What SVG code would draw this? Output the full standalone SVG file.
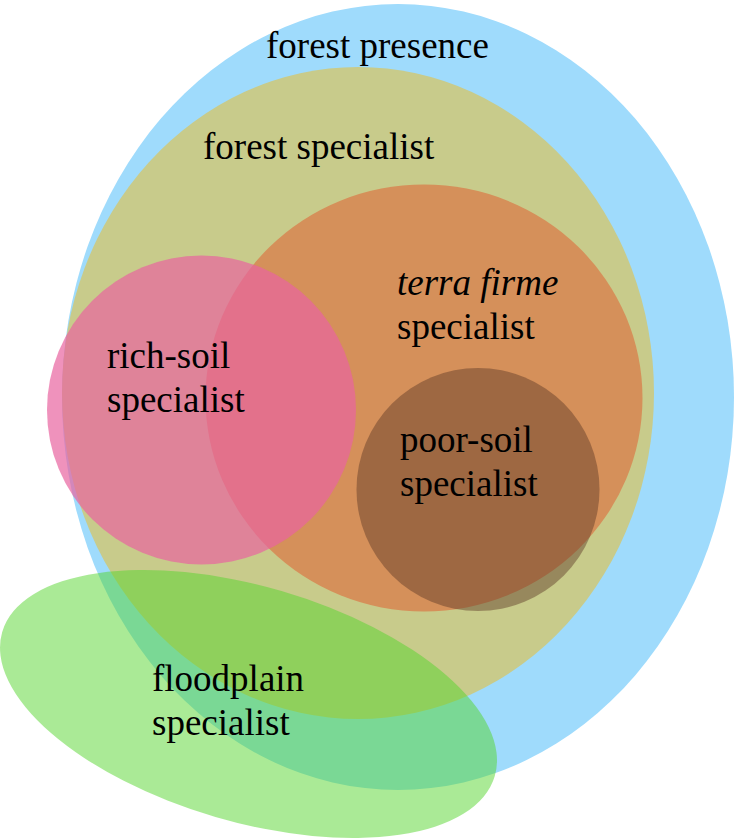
<svg xmlns="http://www.w3.org/2000/svg" width="734" height="839" viewBox="0 0 734 839">
<style>
text{font-family:"Liberation Serif","Times New Roman",serif;font-size:37px;fill:#000}
.it{font-style:italic}
</style>
<rect width="734" height="839" fill="#ffffff"/>
<g id="forest-presence">
<ellipse cx="398" cy="397" rx="336" ry="393" fill="#9fdbfc"/>
</g>
<g id="forest-specialist">
<ellipse cx="358" cy="393" rx="296" ry="326" fill="#c8cb8b"/>
</g>
<g id="terra-firme-specialist">
<ellipse cx="424" cy="398" rx="218.5" ry="213.5" fill="#d5905a"/>
</g>
<g id="rich-soil-specialist">
<circle cx="201.5" cy="410" r="154.5" fill="#e864a0" fill-opacity="0.7"/>
</g>
<g id="poor-soil-specialist">
<circle cx="478" cy="489.5" r="121.5" fill="#5a3826" fill-opacity="0.45"/>
</g>
<g id="floodplain-specialist">
<ellipse cx="248.5" cy="704" rx="256.6" ry="117.7" transform="rotate(16.3 248.5 704)" fill="#55d52d" fill-opacity="0.5"/>
</g>
<g id="labels">
<text x="266" y="58">forest presence</text>
<text x="203" y="159">forest specialist</text>
<text x="397" y="295" class="it">terra firme</text>
<text x="397" y="339">specialist</text>
<text x="107" y="368">rich-soil</text>
<text x="107" y="412">specialist</text>
<text x="400" y="452">poor-soil</text>
<text x="400" y="496">specialist</text>
<text x="152" y="691">floodplain</text>
<text x="152" y="735">specialist</text>
</g>
</svg>
